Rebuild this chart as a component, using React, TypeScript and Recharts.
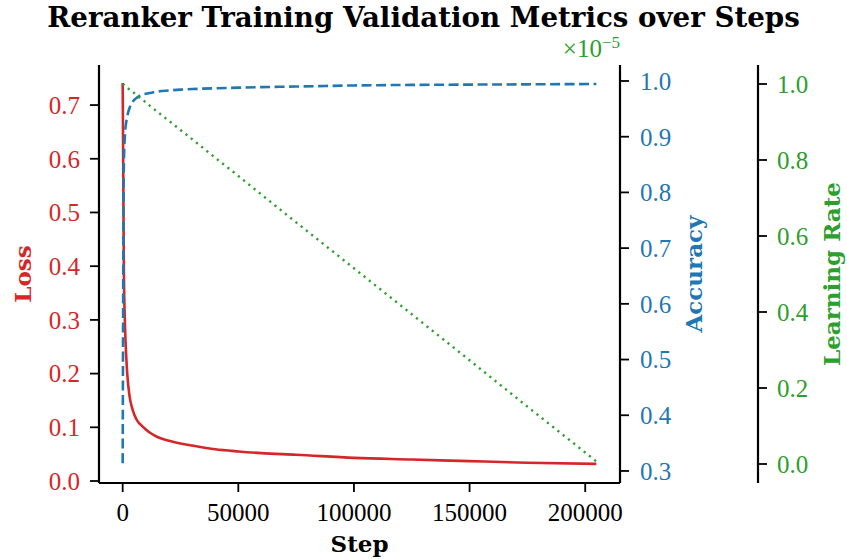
import React from 'react';
import { LineChart, Line, XAxis, YAxis } from 'recharts';

// ---- data ----
const steps = [0, 500, 1000, 1500, 2000, 3000, 4000, 5000, 6500, 8000, 10000, 12500, 15000, 20000, 25000, 30000, 40000, 50000, 60000, 75000, 100000, 125000, 150000, 175000, 204800];
const lossValues = [0.741, 0.4, 0.29, 0.235, 0.198, 0.157, 0.137, 0.124, 0.111, 0.104, 0.096, 0.088, 0.082, 0.075, 0.07, 0.066, 0.059, 0.055, 0.052, 0.049, 0.043, 0.04, 0.037, 0.034, 0.032];
const accuracyValues = [0.314, 0.85, 0.905, 0.925, 0.937, 0.952, 0.96, 0.966, 0.971, 0.975, 0.977, 0.979, 0.981, 0.983, 0.9845, 0.9855, 0.987, 0.988, 0.989, 0.99, 0.992, 0.993, 0.9935, 0.994, 0.9946];
const lrValues = [1.0, 0.998, 0.995, 0.993, 0.99, 0.985, 0.981, 0.976, 0.968, 0.961, 0.952, 0.939, 0.927, 0.903, 0.879, 0.855, 0.806, 0.758, 0.709, 0.636, 0.515, 0.394, 0.273, 0.151, 0.007];

const xTicks = [0, 50000, 100000, 150000, 200000];
const lossTicks = [0, 0.1, 0.2, 0.3, 0.4, 0.5, 0.6, 0.7];
const accTicks = [0.3, 0.4, 0.5, 0.6, 0.7, 0.8, 0.9, 1.0];
const lrTicks = [0, 0.2, 0.4, 0.6, 0.8, 1.0];

const xDomain = [-10240, 215040];
const lossDomain = [-0.0037, 0.7746];
const accDomain = [0.2784, 1.0287];
const lrDomain = [-0.05, 1.05];

const data = steps.map((s, i) => ({ step: s, loss: lossValues[i], accuracy: accuracyValues[i], lr: lrValues[i] }));

const RED = '#d62728';
const BLUE = '#1f77b4';
const GREEN = '#2ca02c';
const SERIF = 'Liberation Serif';
const BOLD = 'DejaVu Serif';
const TICK_FS = 25;

const axisLine = { stroke: '#000', strokeWidth: 2.2 };
const tickLine = { stroke: '#000', strokeWidth: 1.8 };

const vLabel = (text: string, color: string, dx: number) => (props: any) => {
  const vb = props.viewBox || {};
  const x = vb.x + dx;
  const y = vb.y + vb.height / 2;
  return (
    <text x={x} y={y} textAnchor="middle" fill={color} style={{ fontFamily: BOLD, fontWeight: 'bold', fontSize: 23 }}
      transform={`rotate(-90, ${x}, ${y})`}>{text}</text>
  );
};

const stepLabel = (props: any) => {
  const vb = props.viewBox || {};
  return (
    <text x={vb.x + vb.width / 2} y={vb.y + 69} textAnchor="middle" fill="#000" style={{ fontFamily: BOLD, fontWeight: 'bold', fontSize: 23 }}>Step</text>
  );
};

const fmt1 = (v: number) => v.toFixed(1);

const tickStyle = (color: string) => ({ fill: color, fontSize: TICK_FS, fontFamily: SERIF, style: { fontFamily: SERIF } });

export default function App() {
  return (
    <div style={{ position: 'absolute', left: 0, top: 0, width: 847, height: 559, background: '#fff', fontFamily: SERIF }}>
      <LineChart width={847} height={559} data={data} margin={{ top: 65, right: 0, bottom: 0, left: 0 }} style={{ fontFamily: SERIF }}>
        <XAxis dataKey="step" type="number" domain={xDomain} ticks={xTicks} allowDataOverflow
          height={76} tickSize={9} tickMargin={11} axisLine={axisLine} tickLine={tickLine}
          tick={tickStyle('#000')} label={stepLabel} />
        <XAxis xAxisId="top" orientation="top" dataKey="step" type="number" domain={xDomain} allowDataOverflow
          height={0} tick={false} tickLine={false} axisLine={axisLine} />
        <YAxis yAxisId="loss" type="number" domain={lossDomain} ticks={lossTicks} allowDataOverflow width={99}
          tickSize={9} tickMargin={10} axisLine={axisLine} tickLine={tickLine} tickFormatter={fmt1}
          tick={tickStyle(RED)} label={vLabel('Loss', RED, 31)} />
        <YAxis yAxisId="acc" orientation="right" type="number" domain={accDomain} ticks={accTicks} allowDataOverflow width={138}
          tickSize={9} tickMargin={11} axisLine={axisLine} tickLine={tickLine} tickFormatter={fmt1}
          tick={tickStyle(BLUE)} label={vLabel('Accuracy', BLUE, 82)} />
        <YAxis yAxisId="lr" orientation="right" type="number" domain={lrDomain} ticks={lrTicks} allowDataOverflow width={89}
          tickSize={9} tickMargin={10} axisLine={axisLine} tickLine={tickLine} tickFormatter={fmt1}
          tick={tickStyle(GREEN)} label={vLabel('Learning Rate', GREEN, 82)} />
        <Line yAxisId="loss" dataKey="loss" type="monotone" stroke={RED} strokeWidth={2.6} dot={false} isAnimationActive={false} />
        <Line yAxisId="acc" dataKey="accuracy" type="monotone" stroke={BLUE} strokeWidth={2.6} strokeDasharray="10 4.5" dot={false} isAnimationActive={false} />
        <Line yAxisId="lr" dataKey="lr" type="linear" stroke={GREEN} strokeWidth={2.4} strokeDasharray="2.2 4.5" dot={false} isAnimationActive={false} />
      </LineChart>
      <svg width={847} height={559} style={{ position: 'absolute', left: 0, top: 0, pointerEvents: 'none' }}>
        <text x={423.5} y={27} textAnchor="middle" fill="#000" style={{ fontFamily: BOLD, fontWeight: 'bold', fontSize: 27.7 }}>Reranker Training Validation Metrics over Steps</text>
        <text x={620} y={57} textAnchor="end" fill={GREEN} style={{ fontFamily: SERIF, fontSize: 25 }}>×10<tspan dy={-9} style={{ fontSize: 17 }}>−5</tspan></text>
      </svg>
    </div>
  );
}
